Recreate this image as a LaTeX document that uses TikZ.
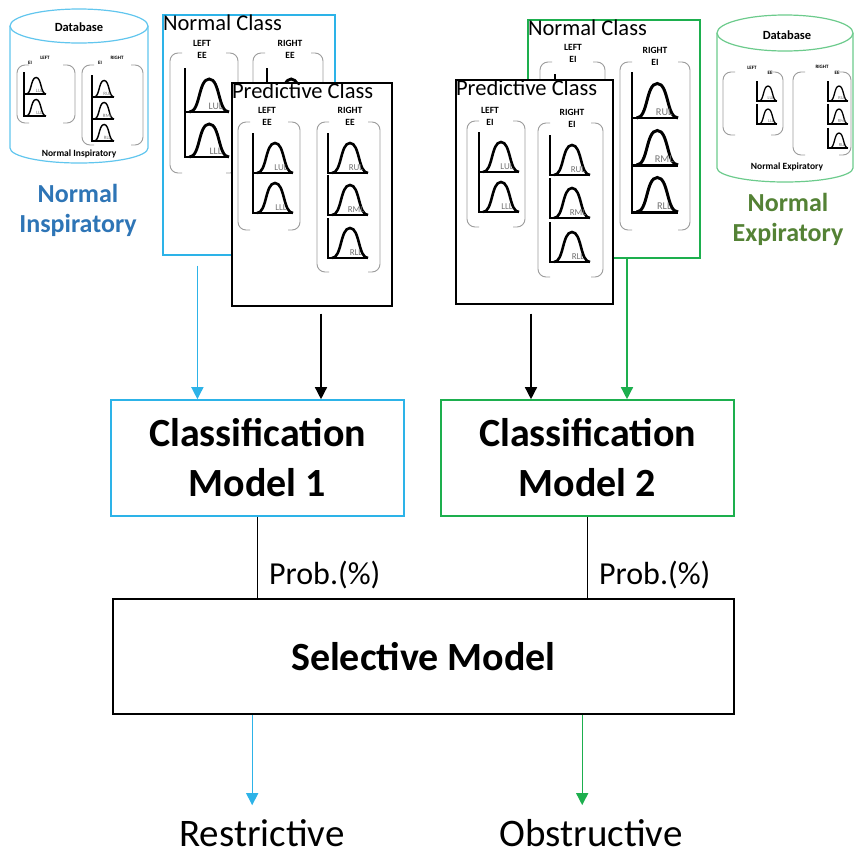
\documentclass[tikz,border=0pt]{standalone}
\usepackage{fontspec}
\setmainfont{Carlito}
\usetikzlibrary{arrows.meta, positioning, calc}
\definecolor{InspBlue}{HTML}{2E75B6}
\definecolor{ExpGreen}{HTML}{548235}
\definecolor{LineBlue}{HTML}{2DB3E8}
\definecolor{LineGreen}{HTML}{1DAF4E}
\definecolor{GroupGray}{HTML}{9C9C9C}

% one small flow-volume glyph: axis x, bottom y, scale, lobe label
\newcommand{\lungplot}[4]{%
  \begin{scope}[shift={(#1,#2)}, scale=#3]
    \draw[line width=#3*2.6pt] (0,-40) -- (0,0) -- (40,0);
    \draw[line width=#3*2.6pt] (4,0) .. controls (14,0) and (12,-30) .. (22,-30) .. controls (32,-30) and (30,0) .. (40,0);
    \node[transform shape, text=black!55, font=\fontsize{9}{9}\selectfont, inner sep=0pt] at (28,-5) {#4};
  \end{scope}}
% bracket pair round a column of glyphs: left x, top y, right x, bottom y
\newcommand{\lobegroup}[4]{%
  \draw[groupline] (#1+12,#2) -- (#1,#2) -- (#1,#4) -- (#1+12,#4);
  \draw[groupline] (#3-12,#2) -- (#3,#2) -- (#3,#4) -- (#3-12,#4);}

\begin{document}
\begin{tikzpicture}[
    x=1pt, y=-1pt,
    classbox/.style={draw, fill=white, line width=1.2pt, inner sep=0pt},
    classtitle/.style={anchor=north west, inner sep=0.5pt, font=\fontsize{22.5}{23}\selectfont},
    grouplabel/.style={align=center, inner sep=0pt, font=\fontsize{9.5}{12}\selectfont\bfseries},
    groupline/.style={rounded corners=8pt, GroupGray, line width=0.9pt},
    dbline/.style={line width=1.2pt, fill=white},
    dbtitle/.style={inner sep=0pt, font=\fontsize{12.5}{13}\selectfont\bfseries},
    dbcaption/.style={inner sep=0pt, font=\fontsize{9.5}{10}\selectfont\bfseries},
    dbtiny/.style={inner sep=0pt, font=\fontsize{5}{5}\selectfont\bfseries},
    dbname/.style={align=center, inner sep=0pt, font=\fontsize{26}{30}\selectfont\bfseries},
    modelbox/.style={draw, line width=1.6pt, minimum width=293pt, minimum height=116pt, align=center, font=\fontsize{40}{50}\selectfont\bfseries},
    selbox/.style={draw, line width=1.6pt, minimum width=621pt, minimum height=115pt, font=\fontsize{40}{50}\selectfont\bfseries},
    arr/.style={-{Triangle[width=12pt, length=12pt]}, line width=1.4pt},
    conn/.style={line width=1.3pt},
    problbl/.style={anchor=west, inner sep=0pt, xshift=11pt, font=\fontsize{32}{32}\selectfont},
    outcome/.style={inner sep=1pt, font=\fontsize{39}{39}\selectfont}
  ]
  \useasboundingbox (0,0) rectangle (854,855);

  % left database
  \draw[dbline, draw=LineBlue!75] (10,26) -- (10,148) arc[start angle=180, end angle=0, x radius=69, y radius=15] -- (148,26);
  \draw[dbline, draw=LineBlue!75] (79,26) ellipse[x radius=69, y radius=17];
  \node[dbtitle] (dbLt) at (79,27) {Database};
  \node[dbtiny] (dbLa) at (45,58) {LEFT};
  \node[dbtiny] (dbLb) at (30,63) {EI};
  \lobegroup{17}{65}{75}{123}
  \lungplot{24}{94}{0.55}{LUL}
  \lungplot{24}{116}{0.55}{LLL}
  \node[dbtiny] (dbLc) at (117,58) {RIGHT};
  \node[dbtiny] (dbLd) at (100,63) {EI};
  \lobegroup{82}{65}{143}{145}
  \lungplot{92}{97}{0.55}{RUL}
  \lungplot{92}{119}{0.55}{RML}
  \lungplot{92}{141}{0.55}{RLL}
  \node[dbcaption] (dbLcap) at (79,154) {Normal Inspiratory};
  \node[dbname, text=InspBlue] (insp) at (78,210) {Normal\\Inspiratory};

  % right database
  \draw[dbline, draw=LineGreen!65] (717,33) -- (717,168) arc[start angle=180, end angle=0, x radius=68, y radius=14] -- (853,33);
  \draw[dbline, draw=LineGreen!65] (785,33) ellipse[x radius=68, y radius=18];
  \node[dbtitle] (dbRt) at (787,35) {Database};
  \node[dbtiny] (dbRa) at (752,68) {LEFT};
  \node[dbtiny] (dbRb) at (770,73) {EE};
  \lobegroup{723}{72}{783}{135}
  \lungplot{757}{101}{0.5}{LUL}
  \lungplot{757}{124}{0.5}{LLL}
  \node[dbtiny] (dbRc) at (822,67) {RIGHT};
  \node[dbtiny] (dbRd) at (837,73) {EE};
  \lobegroup{793}{72}{851}{155}
  \lungplot{828}{101}{0.5}{RUL}
  \lungplot{828}{124}{0.5}{RML}
  \lungplot{828}{148}{0.5}{RLL}
  \node[dbcaption] (dbRcap) at (787,167) {Normal Expiratory};
  \node[dbname, text=ExpGreen] (expi) at (788,219) {Normal\\Expiratory};

  % left normal class (right column sits behind the predictive class)
  \node[classbox, draw=LineBlue, minimum width=172pt, minimum height=240pt] (ncL) at (249,135) {};
  \node[classtitle] (ncLt) at (ncL.north west) {Normal Class};
  \node[grouplabel] (ncLl) at (202,49) {LEFT\\EE};
  \lobegroup{170}{53}{238}{173}
  \lungplot{185}{112}{1.1}{LUL}
  \lungplot{185}{157}{1.1}{LLL}
  \node[grouplabel] (ncLr) at (290,49) {RIGHT\\EE};
  \lobegroup{253}{53}{323}{250}
  \lungplot{267}{112}{1.1}{}

  % left predictive class
  \node[classbox, minimum width=160pt, minimum height=223pt] (pcL) at (312,194.5) {};
  \node[classtitle] (pcLt) at (pcL.north west) {Predictive Class};
  \node[grouplabel] (pcLl) at (267,116) {LEFT\\EE};
  \lobegroup{238}{122}{300}{230}
  \lungplot{253}{173}{1}{LUL}
  \lungplot{253}{213}{1}{LLL}
  \node[grouplabel] (pcLr) at (350,116) {RIGHT\\EE};
  \lobegroup{317}{122}{380}{272}
  \lungplot{328}{173}{1}{RUL}
  \lungplot{328}{215}{1}{RML}
  \lungplot{328}{258}{1}{RLL}

  % right normal class (left column sits behind the predictive class)
  \node[classbox, draw=LineGreen, minimum width=172pt, minimum height=238pt] (ncR) at (614,139) {};
  \node[classtitle] (ncRt) at (ncR.north west) {Normal Class};
  \node[grouplabel] (ncRl) at (573,53) {LEFT\\EI};
  \lobegroup{540}{62}{605}{210}
  \lungplot{555}{120}{1.15}{}
  \node[grouplabel] (ncRr) at (655,56) {RIGHT\\EI};
  \lobegroup{620}{62}{690}{230}
  \lungplot{632}{118}{1.15}{RUL}
  \lungplot{632}{165}{1.15}{RML}
  \lungplot{632}{212}{1.15}{RLL}

  % right predictive class
  \node[classbox, minimum width=157pt, minimum height=224pt] (pcR) at (534.5,192) {};
  \node[classtitle] (pcRt) at (pcR.north west) {Predictive Class};
  \node[grouplabel] (pcRl) at (490,116) {LEFT\\EI};
  \lobegroup{467}{121}{525}{227}
  \lungplot{479}{172}{1}{LUL}
  \lungplot{479}{212}{1}{LLL}
  \node[grouplabel] (pcRr) at (572,118) {RIGHT\\EI};
  \lobegroup{538}{123}{603}{277}
  \lungplot{550}{175}{1}{RUL}
  \lungplot{550}{218}{1}{RML}
  \lungplot{550}{262}{1}{RLL}

  % models
  \node[modelbox, draw=LineBlue] (cm1) at (257.5,458) {Classification\\Model 1};
  \node[modelbox, draw=LineGreen] (cm2) at (587.5,458) {Classification\\Model 2};
  \node[selbox] (sel) at (423.5,656.5) {Selective Model};
  \node[outcome] (res) at (262,833) {Restrictive};
  \node[outcome] (obs) at (591,833) {Obstructive};

  \draw[arr, LineBlue, shorten <=10pt] ([xshift=35pt]ncL.south west) -- ([xshift=35pt]ncL.south west |- cm1.north);
  \draw[arr, shorten <=7pt] ([xshift=9pt]pcL.south) -- ([xshift=9pt]pcL.south |- cm1.north);
  \draw[arr, shorten <=9pt] ([xshift=-3.5pt]pcR.south) -- ([xshift=-3.5pt]pcR.south |- cm2.north);
  \draw[arr, LineGreen] ([xshift=13pt]ncR.south) -- ([xshift=13pt]ncR.south |- cm2.north);

  \draw[conn] (cm1.south) -- (cm1.south |- sel.north) node[problbl, pos=0.71] (p1) {Prob.(\%)};
  \draw[conn] (cm2.south) -- (cm2.south |- sel.north) node[problbl, pos=0.71] (p2) {Prob.(\%)};

  \draw[arr, LineBlue, shorten >=13pt] ([xshift=140pt]sel.south west) -- ([xshift=140pt]sel.south west |- res.north);
  \draw[arr, LineGreen, shorten >=13pt] ([xshift=470pt]sel.south west) -- ([xshift=470pt]sel.south west |- obs.north);
\end{tikzpicture}
\end{document}
